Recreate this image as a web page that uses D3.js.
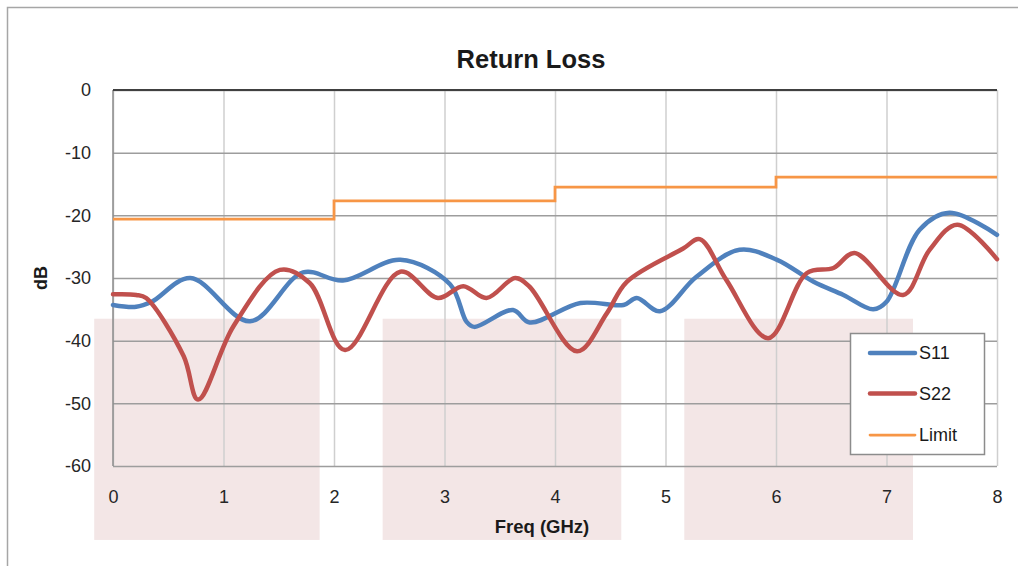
<!DOCTYPE html>
<html>
<head>
<meta charset="utf-8">
<script src="https://cdn.jsdelivr.net/npm/d3@7"></script>
<style>
  body { margin: 0; background: #fff; }
  svg { display: block; font-family: "Liberation Sans", Arial, sans-serif; }
</style>
</head>
<body>
<svg id="chart" width="1018" height="566"></svg>
<script>
// DATA
var yTicks = [0, -10, -20, -30, -40, -50, -60];
var xTicks = [0, 1, 2, 3, 4, 5, 6, 7, 8];

// S11 (GHz, dB)
var s11Freq = [0, 0.21, 0.35, 0.70, 1.24, 1.72, 2.08, 2.6, 3.05, 3.20, 3.27, 3.62, 3.77, 4.23, 4.62, 4.74, 4.95, 5.28, 5.67, 6.01, 6.34, 6.61, 6.88, 7.0, 7.30, 7.57, 8.0];
var s11dB   = [-34.3, -34.6, -33.8, -30.0, -36.9, -29.1, -30.4, -27.1, -31.0, -37.0, -37.8, -35.1, -37.1, -34.0, -34.3, -33.2, -35.3, -29.8, -25.5, -27.1, -30.6, -32.7, -35.0, -33.8, -22.3, -19.6, -23.1];

// S22
var s22Freq = [0, 0.21, 0.30, 0.64, 0.77, 1.09, 1.51, 1.78, 2.10, 2.6, 2.94, 3.17, 3.38, 3.64, 3.77, 4.20, 4.47, 4.65, 5.16, 5.31, 5.55, 5.93, 6.28, 6.52, 6.71, 7.15, 7.39, 7.64, 8.0];
var s22dB   = [-32.6, -32.7, -33.2, -42.5, -49.4, -37.7, -28.7, -30.8, -41.5, -29.0, -33.2, -31.3, -33.2, -30.0, -31.4, -41.7, -35.6, -30.6, -25.3, -23.8, -30.3, -39.6, -29.2, -28.4, -26.0, -32.7, -25.5, -21.5, -27.0];

// Limit (step)
var limitFreq = [0, 2, 4, 6, 8];
var limitdB   = [-20.6, -17.7, -15.5, -13.9, -13.9];

// Shaded bands (GHz start, GHz end)
var bandStart = [-0.17, 2.44, 5.17];
var bandEnd   = [1.87, 4.6, 7.24];
var bandTop = -36.5, bandBottom = -71.8;

var seriesNames = ['S11', 'S22', 'Limit'];
var seriesColors = ['#4f81bd', '#c0504d', '#f79646'];

//.............................................................................//
var svg = d3.select('#chart');
var x = d3.scaleLinear().domain([0, 8]).range([113, 997]);
var y = d3.scaleLinear().domain([-60, 0]).range([466, 90]);

// Chart frame
svg.append('path')
   .attr('d', 'M7.5,566 L7.5,7.5 L1018,7.5')
   .style('fill', 'none')
   .style('stroke', '#a6a6a6')
   .style('stroke-width', 1.5);

// Bands
svg.append('g').selectAll('rect')
   .data(bandStart)
   .join('rect')
   .attr('x', function(d) { return x(d); })
   .attr('width', function(d, i) { return x(bandEnd[i]) - x(d); })
   .attr('y', y(bandTop))
   .attr('height', y(bandBottom) - y(bandTop))
   .style('fill', '#f3e6e6');

// Vertical gridlines
svg.append('g')
   .attr('transform', 'translate(0,' + y(-60) + ')')
   .call(d3.axisBottom(x).tickValues(xTicks).tickSize(-(y(-60) - y(0))).tickFormat(''))
   .call(function(g) {
       g.select('.domain').remove();
       g.selectAll('line').style('stroke', '#cfcfcf').style('stroke-width', 1.5);
   });

// Horizontal gridlines
svg.append('g')
   .attr('transform', 'translate(' + x(0) + ',0)')
   .call(d3.axisLeft(y).tickValues(yTicks).tickSize(-(x(8) - x(0))).tickFormat(''))
   .call(function(g) {
       g.select('.domain').remove();
       g.selectAll('line').style('stroke', '#9d9d9d').style('stroke-width', 1.5);
   });

// Axis lines
svg.append('line')
   .attr('x1', x(0)).attr('x2', x(0)).attr('y1', y(0)).attr('y2', y(-60))
   .style('stroke', '#8c8c8c').style('stroke-width', 1.5);
svg.append('line')
   .attr('x1', x(0)).attr('x2', x(8)).attr('y1', y(0)).attr('y2', y(0))
   .style('stroke', '#404040').style('stroke-width', 2);

// Tick labels (plain hyphen minus, as in the original)
var plain = function(d) { return String(d); };
svg.append('g')
   .attr('transform', 'translate(' + x(0) + ',0)')
   .call(d3.axisLeft(y).tickValues(yTicks).tickSize(0).tickPadding(22).tickFormat(plain))
   .call(function(g) {
       g.select('.domain').remove();
       g.selectAll('text').style('font-size', '18px').style('fill', '#262626').style('font-family', null);
   });
svg.append('g')
   .attr('transform', 'translate(0,' + y(-60) + ')')
   .call(d3.axisBottom(x).tickValues(xTicks).tickSize(0).tickPadding(24).tickFormat(plain))
   .call(function(g) {
       g.select('.domain').remove();
       g.selectAll('text').style('font-size', '18px').style('fill', '#262626').style('font-family', null);
   });

// Series lines
var smooth = d3.line()
   .x(function(d) { return x(d[0]); })
   .y(function(d) { return y(d[1]); })
   .curve(d3.curveCatmullRom.alpha(0.5));
var step = d3.line()
   .x(function(d) { return x(d[0]); })
   .y(function(d) { return y(d[1]); })
   .curve(d3.curveStepAfter);

svg.append('path')
   .datum(limitFreq.map(function(f, i) { return [f, limitdB[i]]; }))
   .attr('d', step)
   .style('fill', 'none').style('stroke', seriesColors[2]).style('stroke-width', 2.75);
svg.append('path')
   .datum(s11Freq.map(function(f, i) { return [f, s11dB[i]]; }))
   .attr('d', smooth)
   .style('fill', 'none').style('stroke', seriesColors[0]).style('stroke-width', 4.5)
   .style('stroke-linejoin', 'round').style('stroke-linecap', 'round');
svg.append('path')
   .datum(s22Freq.map(function(f, i) { return [f, s22dB[i]]; }))
   .attr('d', smooth)
   .style('fill', 'none').style('stroke', seriesColors[1]).style('stroke-width', 4.5)
   .style('stroke-linejoin', 'round').style('stroke-linecap', 'round');

// Title & axis titles
svg.append('text')
   .attr('x', 531).attr('y', 68)
   .attr('text-anchor', 'middle')
   .style('font-size', '25.5px').style('font-weight', 'bold').style('fill', '#1a1a1a')
   .text('Return Loss');
svg.append('text')
   .attr('transform', 'translate(47,278) rotate(-90)')
   .attr('text-anchor', 'middle')
   .style('font-size', '18px').style('font-weight', 'bold').style('fill', '#1a1a1a')
   .text('dB');
svg.append('text')
   .attr('x', 542).attr('y', 533)
   .attr('text-anchor', 'middle')
   .style('font-size', '18.5px').style('font-weight', 'bold').style('fill', '#1a1a1a')
   .text('Freq (GHz)');

// Legend
var legend = svg.append('g');
legend.append('rect')
   .attr('x', 850.5).attr('y', 333.5).attr('width', 134).attr('height', 121)
   .style('fill', '#fff').style('stroke', '#8c8c8c').style('stroke-width', 1.5);
var legendY = [353, 393.5, 435];
var legendW = [4.5, 4.5, 2.75];
seriesNames.forEach(function(name, i) {
    legend.append('line')
          .attr('x1', 870).attr('x2', 915).attr('y1', legendY[i]).attr('y2', legendY[i])
          .style('stroke', seriesColors[i]).style('stroke-width', legendW[i])
          .style('stroke-linecap', 'round');
    legend.append('text')
          .attr('x', 919).attr('y', legendY[i]).attr('dy', '0.35em')
          .style('font-size', '18px').style('fill', '#1a1a1a')
          .text(name);
});
</script>
</body>
</html>
